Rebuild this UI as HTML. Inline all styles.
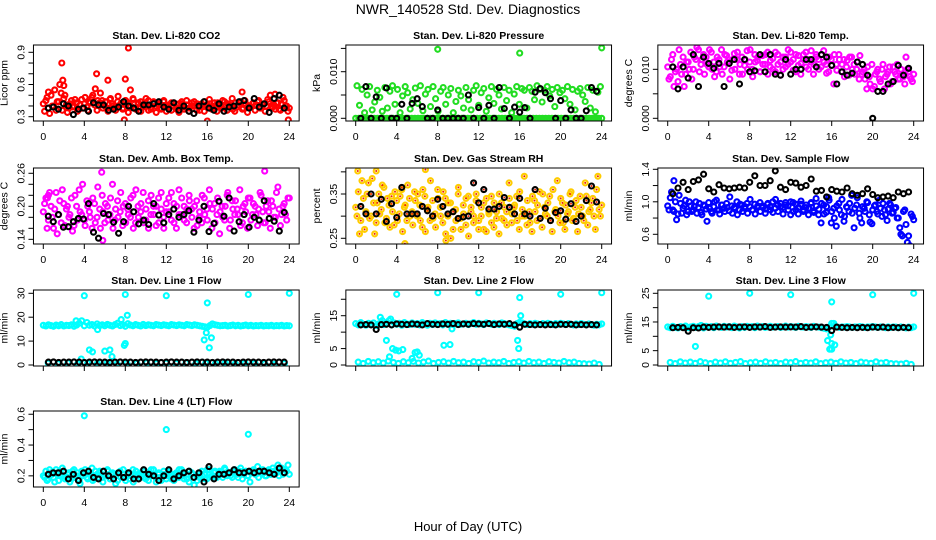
<!DOCTYPE html>
<html><head><meta charset="utf-8"><title>NWR_140528 Std. Dev. Diagnostics</title>
<style>
html,body{margin:0;padding:0;background:#fff;}
svg{display:block;font-family:"Liberation Sans",Arial,sans-serif;}
</style></head>
<body>
<svg id="chart" width="936" height="540" viewBox="0 0 936 540" xmlns="http://www.w3.org/2000/svg">
<rect width="936" height="540" fill="#fff"/>
<text x="468" y="14" font-size="14" text-anchor="middle">NWR_140528  Std. Dev. Diagnostics</text>
<text x="468" y="531" font-size="13" text-anchor="middle">Hour of Day (UTC)</text>
<g id="panels"></g>
</svg>
<script>
// ---- data arrays (x spread evenly over 0..24 hours) ----
const xTicks = [0,4,8,12,16,20,24];

const co2A = [0.42,0.45,0.38,0.50,0.40,0.36,0.44,0.52,0.47,0.41,0.38,0.45,0.40,0.43,0.37,0.46,0.42,0.39,0.44,0.48,0.41,0.36,0.43,0.45,0.40,0.38,0.46,0.42,0.39,0.44,0.41,0.37,0.45,0.43,0.40,0.47,0.38,0.42,0.44,0.39,0.41,0.45,0.37,0.43,0.40,0.42,0.38,0.44,0.41,0.39,0.43,0.40,0.37,0.42,0.44,0.39,0.41,0.38,0.43,0.40,0.42,0.36,0.41,0.44,0.39,0.42,0.40,0.38,0.43,0.41,0.45,0.39,0.42,0.40,0.37,0.43,0.41,0.44,0.38,0.42,0.40,0.39,0.43,0.41,0.45,0.38,0.42,0.40,0.44,0.39,0.41,0.43,0.37,0.42,0.45,0.40,0.38];
const co2B = [0.35,0.48,0.33,0.40,0.55,0.44,0.60,0.36,0.50,0.34,0.42,0.39,0.46,0.35,0.41,0.38,0.48,0.36,0.43,0.50,0.56,0.45,0.52,0.38,0.44,0.35,0.47,0.40,0.36,0.49,0.42,0.38,0.45,0.34,0.40,0.46,0.37,0.43,0.35,0.41,0.47,0.36,0.39,0.44,0.34,0.41,0.37,0.45,0.35,0.40,0.36,0.43,0.38,0.34,0.42,0.37,0.45,0.35,0.40,0.44,0.36,0.39,0.42,0.35,0.41,0.46,0.37,0.43,0.35,0.40,0.38,0.44,0.36,0.41,0.47,0.35,0.39,0.43,0.37,0.45,0.34,0.40,0.42,0.36,0.44,0.38,0.41,0.35,0.46,0.50,0.39,0.37,0.43,0.36,0.48,0.40,0.35];
const co2K = [0.38,0.39,0.37,0.42,0.40,0.32,0.37,0.38,0.35,0.43,0.41,0.41,0.36,0.37,0.39,0.44,0.40,0.38,0.35,0.41,0.41,0.42,0.44,0.39,0.37,0.43,0.36,0.40,0.35,0.33,0.40,0.44,0.38,0.36,0.42,0.35,0.39,0.40,0.44,0.45,0.38,0.47,0.39,0.42,0.34,0.47,0.50,0.38];
const co2OutX = [0.5,1.8,1.9,2.0,5.2,6.3,8.0,8.3,8.5,19.4,22.6,23.9,16.0,7.9];
const co2OutY = [0.53,0.80,0.64,0.59,0.70,0.64,0.65,0.94,0.55,0.53,0.51,0.27,0.26,0.27];

const presA = [0,0,0,0,0,0,0,0,0,0,0,0,0,0,0,0,0,0,0,0,0,0,0,0,0,0,0,0,0,0,0,0,0,0,0,0,0,0,0,0,0,0,0,0,0,0,0,0,0,0,0,0,0,0,0,0,0,0,0,0,0,0,0,0,0,0,0,0,0,0,0,0,0,0,0,0,0,0,0,0];
const presB = [0.0070,0.0028,0.0062,0.0012,0.0050,0.0068,0.0018,0.0035,0.0060,0.0045,0.0015,0.0066,0.0022,0.0058,0.0070,0.0030,0.0062,0.0012,0.0048,0.0068,0.0055,0.0020,0.0040,0.0065,0.0032,0.0070,0.0016,0.0052,0.0062,0.0025,0.0068,0.0042,0.0015,0.0058,0.0066,0.0030,0.0050,0.0064,0.0012,0.0036,0.0060,0.0048,0.0022,0.0066,0.0040,0.0018,0.0060,0.0070,0.0028,0.0055,0.0064,0.0015,0.0044,0.0068,0.0032,0.0062,0.0050,0.0020,0.0066,0.0038,0.0060,0.0012,0.0052,0.0068,0.0030,0.0064,0.0060,0.0022,0.0066,0.0058,0.0040,0.0070,0.0062,0.0035,0.0060,0.0068,0.0048,0.0062,0.0025,0.0066,0.0055,0.0060,0.0042,0.0068,0.0030,0.0062,0.0018,0.0058,0.0064,0.0050,0.0036,0.0066,0.0022,0.0060,0.0014,0.0056,0.0068];
const presK = [0,0.0068,0,0.0046,0,0.0065,0,0,0.0030,0,0.0032,0.0042,0.0025,0,0,0.0018,0,0,0,0,0,0.0050,0,0.0023,0,0.0028,0,0.0066,0.0021,0,0.0024,0.0013,0.0023,0,0.0056,0.0064,0.0055,0.0042,0,0.0038,0,0.0018,0,0,0.0016,0.0066,0.0058];
const presOutX = [8,16,24];
const presOutY = [0.0148,0.0140,0.0151];

const tempA = [0.0105,0.0085,0.0130,0.0095,0.0075,0.0110,0.0125,0.0090,0.0115,0.0135,0.0100,0.0120,0.0140,0.0110,0.0130,0.0125,0.0105,0.0135,0.0115,0.0095,0.0120,0.0140,0.0105,0.0128,0.0112,0.0098,0.0132,0.0120,0.0090,0.0125,0.0108,0.0138,0.0115,0.0100,0.0130,0.0118,0.0095,0.0128,0.0110,0.0135,0.0105,0.0122,0.0095,0.0130,0.0115,0.0100,0.0125,0.0110,0.0135,0.0120,0.0095,0.0128,0.0112,0.0130,0.0105,0.0120,0.0138,0.0110,0.0125,0.0100,0.0130,0.0115,0.0092,0.0125,0.0108,0.0130,0.0098,0.0120,0.0110,0.0085,0.0118,0.0125,0.0100,0.0090,0.0115,0.0128,0.0095,0.0080,0.0105,0.0070,0.0060,0.0090,0.0100,0.0075,0.0110,0.0085,0.0095,0.0070,0.0105,0.0090,0.0080,0.0100,0.0085,0.0125,0.0095,0.0080,0.0090];
const tempB = [0.0080,0.0120,0.0065,0.0100,0.0140,0.0090,0.0065,0.0115,0.0100,0.0080,0.0125,0.0145,0.0095,0.0120,0.0090,0.0110,0.0140,0.0100,0.0085,0.0125,0.0105,0.0090,0.0130,0.0115,0.0080,0.0120,0.0100,0.0135,0.0110,0.0090,0.0120,0.0100,0.0140,0.0085,0.0115,0.0125,0.0095,0.0110,0.0130,0.0090,0.0118,0.0100,0.0135,0.0110,0.0088,0.0125,0.0105,0.0140,0.0115,0.0098,0.0130,0.0108,0.0090,0.0120,0.0135,0.0100,0.0115,0.0090,0.0130,0.0120,0.0105,0.0138,0.0110,0.0095,0.0120,0.0070,0.0110,0.0130,0.0095,0.0120,0.0105,0.0088,0.0125,0.0110,0.0100,0.0080,0.0090,0.0100,0.0060,0.0085,0.0110,0.0065,0.0095,0.0080,0.0100,0.0060,0.0090,0.0105,0.0075,0.0095,0.0110,0.0080,0.0090,0.0070,0.0100,0.0085,0.0075];
const tempK = [0.0105,0.0060,0.0105,0.0082,0.0130,0.0065,0.0125,0.0112,0.0102,0.0112,0.0065,0.0112,0.0120,0.0070,0.0120,0.0095,0.0097,0.0130,0.0095,0.0130,0.0090,0.0088,0.0120,0.0090,0.0100,0.0100,0.0120,0.0120,0.0105,0.0130,0.0125,0.0108,0.0070,0.0095,0.0088,0.0092,0.0115,0.0110,0.0088,0.0000,0.0055,0.0055,0.0070,0.0075,0.0108,0.0088,0.0102];

const ambA = [0.190,0.215,0.175,0.200,0.160,0.225,0.185,0.170,0.205,0.195,0.180,0.215,0.165,0.200,0.230,0.185,0.175,0.210,0.190,0.160,0.205,0.180,0.195,0.220,0.170,0.200,0.185,0.240,0.175,0.210,0.190,0.165,0.205,0.195,0.180,0.220,0.170,0.200,0.190,0.225,0.175,0.210,0.185,0.200,0.165,0.215,0.195,0.180,0.205,0.190,0.225,0.170,0.200,0.185,0.215,0.175,0.195,0.210,0.180,0.200,0.165,0.190,0.220,0.185,0.175,0.205,0.195,0.170,0.215,0.190,0.180,0.200,0.225,0.175,0.195,0.210,0.185,0.165,0.200,0.190,0.215,0.175,0.205,0.185,0.195,0.220,0.170,0.200,0.190,0.210,0.180,0.225,0.195,0.185,0.205,0.175,0.215];
const ambB = [0.205,0.160,0.225,0.180,0.195,0.150,0.210,0.230,0.165,0.200,0.185,0.155,0.220,0.175,0.190,0.240,0.165,0.200,0.180,0.215,0.170,0.235,0.160,0.190,0.205,0.175,0.215,0.160,0.195,0.180,0.225,0.200,0.170,0.185,0.215,0.160,0.230,0.180,0.205,0.170,0.195,0.160,0.220,0.185,0.200,0.170,0.225,0.160,0.190,0.215,0.175,0.205,0.160,0.230,0.185,0.200,0.170,0.220,0.195,0.160,0.210,0.180,0.170,0.215,0.195,0.230,0.160,0.205,0.185,0.150,0.200,0.175,0.220,0.160,0.210,0.185,0.195,0.230,0.170,0.205,0.160,0.215,0.185,0.200,0.165,0.225,0.190,0.170,0.210,0.160,0.200,0.180,0.235,0.165,0.200,0.185,0.215];
const ambK = [0.182,0.172,0.185,0.162,0.163,0.172,0.178,0.177,0.205,0.153,0.142,0.187,0.185,0.171,0.151,0.172,0.200,0.190,0.168,0.175,0.167,0.205,0.184,0.170,0.185,0.195,0.180,0.185,0.192,0.153,0.175,0.200,0.154,0.169,0.209,0.182,0.215,0.155,0.172,0.185,0.162,0.180,0.175,0.210,0.178,0.173,0.155,0.189];
const ambOutX = [5.7,5.8,21.6,0.4,0.5];
const ambOutY = [0.262,0.138,0.264,0.215,0.220];

const rhA = [0.320,0.355,0.290,0.340,0.310,0.375,0.300,0.330,0.285,0.350,0.315,0.365,0.295,0.325,0.345,0.280,0.335,0.305,0.360,0.320,0.290,0.340,0.310,0.355,0.300,0.325,0.275,0.345,0.315,0.290,0.335,0.305,0.360,0.320,0.285,0.340,0.300,0.330,0.270,0.315,0.350,0.295,0.325,0.280,0.345,0.310,0.300,0.335,0.290,0.320,0.270,0.340,0.305,0.285,0.330,0.310,0.350,0.295,0.320,0.280,0.340,0.305,0.325,0.290,0.355,0.315,0.300,0.335,0.285,0.345,0.310,0.325,0.295,0.350,0.305,0.330,0.290,0.360,0.315,0.300,0.340,0.285,0.325,0.310,0.355,0.295,0.335,0.305,0.320,0.290,0.345,0.310,0.330,0.300,0.360,0.315,0.325];
const rhB = [0.300,0.260,0.380,0.270,0.350,0.295,0.385,0.260,0.330,0.305,0.370,0.285,0.340,0.275,0.310,0.355,0.290,0.345,0.265,0.325,0.370,0.300,0.280,0.335,0.350,0.290,0.360,0.265,0.320,0.380,0.295,0.275,0.340,0.300,0.355,0.260,0.330,0.250,0.310,0.290,0.365,0.270,0.305,0.340,0.255,0.320,0.285,0.350,0.270,0.300,0.330,0.265,0.310,0.345,0.275,0.295,0.260,0.330,0.290,0.310,0.375,0.285,0.320,0.345,0.270,0.300,0.390,0.280,0.310,0.265,0.335,0.290,0.355,0.275,0.320,0.300,0.345,0.265,0.310,0.380,0.285,0.330,0.270,0.305,0.350,0.290,0.320,0.265,0.345,0.300,0.375,0.280,0.315,0.340,0.270,0.390,0.300];
const rhK = [0.322,0.305,0.350,0.305,0.338,0.288,0.328,0.297,0.365,0.305,0.305,0.305,0.322,0.312,0.300,0.338,0.322,0.305,0.310,0.295,0.298,0.300,0.375,0.330,0.360,0.316,0.316,0.322,0.342,0.320,0.305,0.340,0.305,0.300,0.360,0.295,0.318,0.290,0.308,0.312,0.293,0.328,0.288,0.300,0.335,0.368,0.332];
const rhOutX = [0.2,4.8,8.8,2.0,6.8];
const rhOutY = [0.402,0.238,0.245,0.402,0.405];

const flowA = [0.95,1.05,0.90,1.00,0.85,0.98,0.92,1.02,0.88,0.95,0.90,1.00,0.93,0.87,0.96,0.91,0.99,0.88,0.94,1.02,0.90,0.96,0.92,0.98,0.89,0.95,0.93,1.00,0.90,0.96,0.92,0.98,0.94,0.90,0.97,0.93,0.99,0.95,0.91,0.97,0.94,1.00,0.92,0.96,0.98,0.93,0.99,0.95,1.00,0.88,0.97,0.93,1.01,0.90,0.96,0.92,0.99,0.87,0.95,0.91,0.98,0.85,0.94,1.02,0.88,0.80,0.95,0.90,1.03,0.82,0.93,0.98,0.86,0.92,1.05,0.80,0.94,0.88,0.99,0.75,0.90,0.96,0.85,0.92,0.98,0.84,0.91,0.96,0.87,0.93,0.80,0.60,0.88,0.72,0.58,0.85,0.78];
const flowB = [0.90,1.12,0.88,0.78,1.08,0.86,0.95,0.84,1.00,0.88,0.94,0.86,0.98,0.84,0.95,0.76,0.92,0.86,1.00,0.90,0.85,0.96,0.88,0.93,1.06,0.86,0.92,0.84,0.97,0.88,0.94,0.86,1.03,0.90,0.85,0.95,0.88,0.93,0.86,0.98,0.90,0.87,1.03,0.88,0.94,0.85,0.96,0.90,0.84,0.99,0.90,0.85,0.97,0.88,0.93,0.84,0.98,0.89,1.04,0.84,0.74,0.96,0.87,1.05,0.74,0.92,0.70,0.98,0.84,0.76,0.94,0.88,1.08,0.68,0.96,0.86,0.74,0.92,1.00,0.84,0.73,0.95,0.88,1.02,0.82,0.90,0.77,0.98,0.86,0.92,0.80,0.68,0.58,0.90,0.50,0.46,0.82];
const flowK = [1.10,1.17,1.24,1.15,1.25,1.27,1.34,1.16,1.12,1.21,1.17,1.16,1.17,1.18,1.17,1.24,1.32,1.20,1.20,1.26,1.38,1.18,1.15,1.24,1.23,1.18,1.20,1.28,1.13,1.14,1.06,1.15,1.13,1.12,1.17,1.10,1.08,1.10,1.16,1.09,1.05,1.06,1.07,1.05,1.12,1.10,1.12];
const flowOutX = [0.6];
const flowOutY = [1.26];

const l1A = [16.6,16.3,16.8,16.5,16.2,16.7,16.4,16.9,16.3,16.6,16.5,16.8,16.2,16.7,17.5,18.5,16.4,17.8,16.6,16.9,16.3,17.2,16.5,16.8,16.4,17.0,16.6,16.3,16.9,17.5,16.5,16.8,16.2,17.3,16.7,16.4,16.9,16.6,16.3,17.0,16.5,16.8,16.6,16.4,16.9,16.7,16.5,16.8,16.6,16.4,16.9,16.7,16.5,16.8,16.6,16.4,16.9,16.7,16.5,16.8,16.6,16.4,16.2,16.0,15.8,16.5,17.2,16.8,16.6,16.4,16.5,16.6,16.3,16.5,16.7,16.4,16.6,16.3,16.5,16.7,16.4,16.6,16.3,16.5,16.4,16.6,16.3,16.5,16.4,16.6,16.3,16.5,16.4,16.6,16.3,16.5,16.4];
const l1B = [0.8,0.6,0.9,0.5,0.8,0.7,0.9,0.6,0.8,0.7,0.9,0.6,0.8,0.7,0.9,0.6,0.8,0.7,0.9,0.6,0.8,0.7,0.5,0.3,0.6];
const l1K = [1.2,1.3,1.1,1.2,1.2,1.3,1.2,1.1,1.2,1.3,1.2,1.2,1.1,1.2,1.3,1.2,1.2,1.1,1.2,1.3,1.2,1.2,1.1,1.2,1.3,1.2,1.2,1.1,1.2,1.3,1.2,1.2,1.1,1.2,1.3,1.2,1.2,1.1,1.2,1.3,1.2,1.2,1.1,1.2,1.3,1.2,1.2];
const l1OutX = [4.0,8.0,12.0,20.0,24.0,16.0,3.7,4.5,4.8,6.0,6.5,6.7,7.9,8.0,8.2,15.7,15.9,16.2,16.4,3.2,7.6,5.3];
const l1OutY = [29,29.5,29,29.5,30,26,2.5,6.3,5.5,5.8,6.3,3.5,8.2,9,20.8,10.5,13.5,7.2,11.4,18.5,19,14.8];

const l2A = [12.6,12.2,12.9,12.4,12.1,12.7,12.3,12.8,12.0,12.5,12.9,12.3,12.6,13.5,12.2,12.8,12.4,12.7,12.1,12.9,12.5,12.3,12.8,12.4,12.6,12.2,12.9,12.5,12.1,12.7,12.3,12.8,12.5,12.6,12.2,12.9,12.4,12.7,12.3,12.6,12.8,12.4,12.5,12.7,12.3,12.6,12.9,12.4,12.7,12.5,12.3,12.8,12.6,12.4,12.7,12.5,12.3,12.8,12.6,12.4,12.2,12.0,11.8,12.6,13.0,12.8,12.5,12.3,12.6,12.4,12.7,12.5,12.3,12.6,12.4,12.7,12.5,12.3,12.6,12.4,12.7,12.5,12.3,12.6,12.4,12.2,12.5,12.3,12.6,12.4,12.2,12.5,12.3,12.1,12.4,12.2,12.5];
const l2B = [0.9,0.5,1.1,0.7,1.0,0.6,1.2,0.8,0.5,1.0,0.7,1.1,0.6,0.9,1.2,0.5,0.8,1.0,0.6,1.1,0.7,0.9,0.5,1.0,0.8,1.2,0.6,0.9,0.7,1.1,0.5,0.8,1.0,0.6,1.1,0.7,0.9,0.5,1.0,0.8,0.6,1.1,0.7,0.9,0.5,0.4,0.3,0.6,0.2];
const l2K = [12.2,12.3,12.2,10.8,12.3,12.4,12.2,12.5,12.4,12.3,12.5,12.4,12.2,12.6,12.4,12.3,12.5,12.4,12.6,12.3,12.5,12.4,12.6,12.5,12.4,12.6,12.3,12.5,12.4,12.6,12.2,11.5,12.4,12.3,12.2,12.3,12.2,12.3,12.2,12.4,12.3,12.4,12.2,12.3,12.2,12.3,12.2];
const l2OutX = [4,8,12,20,24,16,3.0,3.3,3.6,4.2,4.6,5.5,6.0,6.2,8.6,9.2,9.4,15.8,15.9,16.1,3.4,2.4,2.6,3.9,5.8];
const l2OutY = [21.5,22,22,21.5,22,20.5,7.5,2.5,5,4.3,4.7,2,4,3,6,6.2,11,7.5,5,15,14,14.5,13.5,4.5,3.8];

const l3A = [13.3,13.0,13.5,13.1,12.9,13.4,13.2,13.6,13.0,13.3,13.5,13.1,13.4,13.8,12.9,13.5,13.2,13.4,13.0,13.6,13.3,13.1,13.5,13.2,13.4,13.0,13.6,13.3,12.9,13.4,13.1,13.5,13.3,13.4,13.0,13.6,13.2,13.4,13.1,13.3,13.5,13.2,13.3,13.4,13.1,13.3,13.6,13.2,13.4,13.3,13.1,13.5,13.3,13.2,13.4,13.3,13.1,13.5,13.3,13.2,13.0,12.8,12.6,13.3,14.5,13.5,13.3,13.1,13.3,13.2,13.4,13.3,13.1,13.3,13.2,13.4,13.3,13.1,13.3,13.2,13.4,13.3,13.1,13.3,13.2,13.0,13.3,13.1,13.3,13.2,13.0,13.3,13.1,12.9,13.2,13.0,13.3];
const l3B = [0.9,0.5,1.1,0.7,1.0,0.6,1.2,0.8,0.5,1.0,0.7,1.1,0.6,0.9,1.2,0.5,0.8,1.0,0.6,1.1,0.7,0.9,0.5,1.0,0.8,1.2,0.6,0.9,0.7,1.1,0.5,0.8,1.0,0.6,1.1,0.7,0.9,0.5,1.0,0.8,0.6,1.1,0.7,0.9,0.5,0.4,0.3,0.6,0.2];
const l3K = [13.0,13.1,13.0,11.8,13.0,12.9,13.2,13.1,13.2,13.3,13.2,13.3,13.1,13.2,13.3,13.1,13.3,13.2,13.4,13.1,13.2,13.3,13.2,13.3,13.2,13.4,13.1,13.2,13.3,13.2,13.1,12.0,13.2,13.1,13.0,13.1,13.0,13.1,13.0,13.2,13.1,13.2,13.0,13.1,13.0,13.1,13.0];
const l3OutX = [4,8,12,20,24,16,2.7,15.6,15.8,15.9,16.3,16.2,16.0,16.0];
const l3OutY = [24,25,24.5,24.5,25,22,6.5,8.5,5.5,10.5,7,14.5,7.5,5.5];

const l4A = [0.20,0.23,0.18,0.22,0.19,0.24,0.17,0.21,0.23,0.19,0.22,0.18,0.24,0.20,0.17,0.23,0.21,0.19,0.22,0.25,0.18,0.21,0.23,0.19,0.20,0.24,0.18,0.22,0.20,0.17,0.23,0.21,0.19,0.22,0.18,0.24,0.20,0.21,0.19,0.23,0.18,0.22,0.20,0.24,0.19,0.21,0.17,0.23,0.20,0.22,0.18,0.21,0.19,0.24,0.20,0.22,0.18,0.23,0.21,0.19,0.17,0.22,0.20,0.18,0.24,0.21,0.19,0.23,0.20,0.22,0.19,0.24,0.21,0.20,0.23,0.22,0.19,0.25,0.21,0.23,0.20,0.22,0.24,0.21,0.19,0.23,0.22,0.20,0.24,0.21,0.23,0.22,0.20,0.25,0.22,0.23,0.21];
const l4B = [0.19,0.17,0.24,0.21,0.16,0.22,0.20,0.25,0.18,0.21,0.16,0.23,0.19,0.22,0.15,0.20,0.24,0.18,0.21,0.17,0.23,0.19,0.22,0.16,0.20,0.23,0.18,0.21,0.15,0.22,0.19,0.24,0.17,0.21,0.20,0.16,0.23,0.18,0.22,0.19,0.21,0.17,0.24,0.20,0.16,0.22,0.19,0.21,0.18,0.23,0.20,0.17,0.22,0.19,0.24,0.18,0.21,0.16,0.22,0.14,0.20,0.19,0.23,0.21,0.18,0.24,0.20,0.22,0.19,0.23,0.21,0.25,0.20,0.22,0.19,0.24,0.21,0.23,0.18,0.22,0.20,0.16,0.23,0.21,0.26,0.22,0.24,0.20,0.23,0.21,0.25,0.22,0.27,0.23,0.21,0.24,0.27];
const l4K = [0.21,0.22,0.22,0.23,0.18,0.21,0.17,0.22,0.23,0.19,0.18,0.23,0.20,0.18,0.22,0.19,0.22,0.18,0.18,0.24,0.21,0.20,0.17,0.20,0.24,0.18,0.20,0.22,0.23,0.19,0.22,0.16,0.26,0.18,0.21,0.21,0.22,0.24,0.22,0.22,0.23,0.22,0.23,0.23,0.22,0.21,0.25,0.22];
const l4OutX = [4,12,20];
const l4OutY = [0.59,0.50,0.47];

// ---- panel configuration (layout / style only) ----
const panels = [
 {name:'co2',title:'Stan. Dev. Li-820 CO2',ylab:'Licor ppm',col:0,row:0,ymin:0.26,ymax:0.968,ticks:[0.3,0.4,0.5,0.6,0.7,0.8,0.9],labels:[0.3,0.6,0.9],dec:1,color:'#ff0000',A:co2A,B:co2B,K:co2K,ox:co2OutX,oy:co2OutY,xlab:true},
 {name:'pressure',title:'Stan. Dev. Li-820 Pressure',ylab:'kPa',col:1,row:0,ymin:-0.00058,ymax:0.01573,ticks:[0,0.005,0.010,0.015],labels:[0,0.010],dec:3,color:'#22dd22',A:presA,B:presB,K:presK,ox:presOutX,oy:presOutY,xlab:true},
 {name:'temp',title:'Stan. Dev. Li-820 Temp.',ylab:'degrees C',col:2,row:0,ymin:-0.00055,ymax:0.01496,ticks:[0,0.005,0.010],labels:[0,0.010],dec:3,color:'#ff00ff',A:tempA,B:tempB,K:tempK,ox:[],oy:[],xlab:true},
 {name:'amb-box-temp',title:'Stan. Dev. Amb. Box Temp.',ylab:'degrees C',col:0,row:1,ymin:0.1315,ymax:0.2696,ticks:[0.14,0.16,0.18,0.20,0.22,0.24,0.26],labels:[0.14,0.20,0.26],dec:2,color:'#ff00ff',A:ambA,B:ambB,K:ambK,ox:ambOutX,oy:ambOutY,xlab:true},
 {name:'gas-stream-rh',title:'Stan. Dev. Gas Stream RH',ylab:'percent',col:1,row:1,ymin:0.2371,ymax:0.4087,ticks:[0.25,0.30,0.35,0.40],labels:[0.25,0.35],dec:2,color:'#ffcc00',dot:'#ee2200',A:rhA,B:rhB,K:rhK,ox:rhOutX,oy:rhOutY,xlab:true},
 {name:'sample-flow',title:'Stan. Dev. Sample Flow',ylab:'ml/min',col:2,row:1,ymin:0.4806,ymax:1.416,ticks:[0.6,0.8,1.0,1.2,1.4],labels:[0.6,1.0,1.4],dec:1,color:'#0000ff',A:flowA,B:flowB,K:flowK,ox:flowOutX,oy:flowOutY,xlab:true},
 {name:'line1-flow',title:'Stan. Dev. Line 1 Flow',ylab:'ml/min',col:0,row:2,ymin:-0.42,ymax:31.38,ticks:[0,10,20,30],labels:[0,10,20,30],dec:0,color:'#00ffff',A:l1A,B:l1B,K:l1K,ox:l1OutX,oy:l1OutY,xlab:false},
 {name:'line2-flow',title:'Stan. Dev. Line 2 Flow',ylab:'ml/min',col:1,row:2,ymin:-0.3,ymax:22.82,ticks:[0,5,10,15,20],labels:[0,5,15],dec:0,color:'#00ffff',A:l2A,B:l2B,K:l2K,ox:l2OutX,oy:l2OutY,xlab:false},
 {name:'line3-flow',title:'Stan. Dev. Line 3 Flow',ylab:'ml/min',col:2,row:2,ymin:-0.35,ymax:26.15,ticks:[0,5,10,15,20,25],labels:[0,5,15,25],dec:0,color:'#00ffff',A:l3A,B:l3B,K:l3K,ox:l3OutX,oy:l3OutY,xlab:false},
 {name:'line4-flow',title:'Stan. Dev. Line 4 (LT) Flow',ylab:'ml/min',col:0,row:3,ymin:0.1276,ymax:0.621,ticks:[0.2,0.3,0.4,0.5,0.6],labels:[0.2,0.4,0.6],dec:1,color:'#00ffff',A:l4A,B:l4B,K:l4K,ox:l4OutX,oy:l4OutY,xlab:true}
];
const colX0 = [43.3, 355.7, 667.7];
const rowTop = [45, 168, 290, 411];
const NS = 'http://www.w3.org/2000/svg';
const root = document.getElementById('panels');

function mk(tag, attrs, parent) {
  const el = document.createElementNS(NS, tag);
  for (const k in attrs) el.setAttribute(k, attrs[k]);
  parent.appendChild(el);
  return el;
}

panels.forEach(p => {
  const x0 = colX0[p.col], span = 246;
  const left = x0 - 0.04*span, right = x0 + span*1.04;
  const top = rowTop[p.row], bottom = top + 76;
  const xs = h => x0 + h/24*span;
  const ys = v => bottom - (v - p.ymin)/(p.ymax - p.ymin)*(bottom - top);
  const g = mk('g', {}, root);
  
  

  const t = mk('text', {x:(left+right)/2, y:top-6, 'font-size':10.5, 'font-weight':'bold', 'text-anchor':'middle'}, g);
  t.textContent = p.title;
  
  

  const yl = mk('text', {x:0, y:0, 'font-size':10.5, 'text-anchor':'middle', transform:`translate(${left-26},${(top+bottom)/2}) rotate(-90)`}, g);
  yl.textContent = p.ylab;
  
  

  const cid = 'clip-' + p.name;
  const cp = mk('clipPath', {id:cid}, g);
  mk('rect', {x:left, y:top, width:right-left, height:bottom-top}, cp);
  const pts = mk('g', {'clip-path':`url(#${cid})`, fill:'none'}, g);
  
  

  function dot(h, v, color, series) {
    const c = mk('circle', {cx:xs(h).toFixed(1), cy:ys(v).toFixed(1), r:2.5, stroke:color, 'stroke-width':2.1}, pts);
    
    
    if (p.dot) mk('circle', {cx:xs(h).toFixed(1), cy:ys(v).toFixed(1), r:1, fill:p.dot}, pts);
  }
  p.A.forEach((v,i) => dot(i*24/(p.A.length-1), v, p.color, 'a'));
  p.B.forEach((v,i) => dot((i+0.5)*24/p.B.length, v, p.color, 'b'));
  p.ox.forEach((h,i) => dot(h, p.oy[i], p.color, 'outlier'));
  p.K.forEach((v,i) => dot((i+1)*24/(p.K.length+1), v, '#000', 'black'));

  const box = mk('rect', {x:left, y:top, width:right-left, height:bottom-top, fill:'none', stroke:'#000', 'stroke-width':1}, g);
  
  

  xTicks.forEach(h => {
    mk('line', {x1:xs(h), x2:xs(h), y1:bottom, y2:bottom+5, stroke:'#000'}, g);
    if (p.xlab) {
      const tl = mk('text', {x:xs(h), y:bottom+19, 'font-size':10.5, 'text-anchor':'middle'}, g);
      tl.textContent = h;
      
      
    }
  });
  p.ticks.forEach(v => {
    mk('line', {x1:left-5, x2:left, y1:ys(v), y2:ys(v), stroke:'#000'}, g);
  });
  p.labels.forEach(v => {
    const yt = mk('text', {x:0, y:0, 'font-size':10.5, 'text-anchor':'middle', transform:`translate(${left-9},${ys(v)}) rotate(-90)`}, g);
    yt.textContent = v.toFixed(p.dec);
    
    
  });
});
</script>
</body></html>
